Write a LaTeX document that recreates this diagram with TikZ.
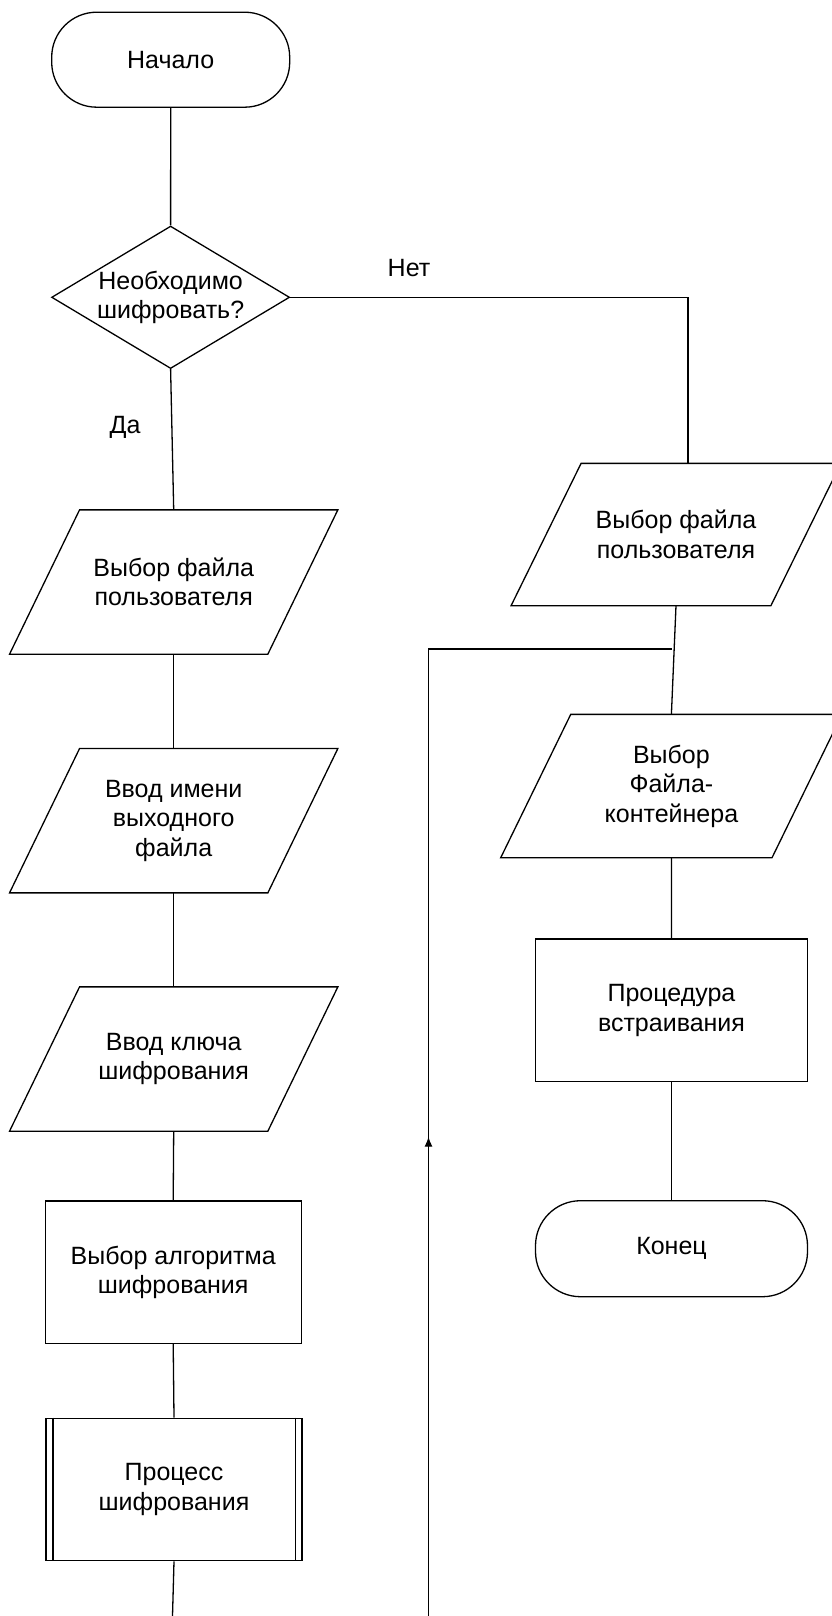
\documentclass[tikz,border=0pt]{standalone}
\usepackage{fontspec}
\setmainfont{Liberation Sans}
\usetikzlibrary{shapes.geometric,arrows.meta,decorations.markings}

\begin{document}
\begin{tikzpicture}[x=1pt, y=-1pt, line width=1.3pt,
    font=\fontsize{25}{29.5}\selectfont,
    term/.style={draw, rectangle, rounded corners=45pt, minimum width=238, minimum height=95},
    cond/.style={draw, diamond, aspect=1.67, inner sep=0pt, minimum width=238, minimum height=142.5, align=center},
    io/.style={rectangle, inner sep=0pt, minimum width=257, minimum height=143, align=center,
        append after command={\pgfextra{\draw ([xshift=35]\tikzlastnode.north west)
            -- ([xshift=35]\tikzlastnode.north east) -- ([xshift=-35]\tikzlastnode.south east)
            -- ([xshift=-35]\tikzlastnode.south west) -- cycle;}}},
    proc/.style={draw, rectangle, minimum width=256, minimum height=142.5, align=center}]
        \useasboundingbox (0,0) rectangle (831,1616);

        % levá větev
        \node[term] (start) at (170.7,59.7) {Начало};
        \node[cond] (dec) at (170.6,297.3) {Необходимо\\шифровать?};
        \node[io] (in1) at (173.7,582) {Выбор файла\\пользователя};
        \node[io] (in2) at (173.7,820.7) {Ввод имени\\выходного\\файла};
        \node[io] (in3) at (173.7,1059) {Ввод ключа\\шифрования};
        \node[proc] (algo) at (173.2,1272.2) {Выбор алгоритма\\шифрования};
        \node[proc] (enc) at (174,1489.5) {Процесс\\шифрования};
        \draw ([xshift=7.5]enc.north west) -- ([xshift=7.5]enc.south west)
            ([xshift=-7.5]enc.north east) -- ([xshift=-7.5]enc.south east);

        % pravá větev
        \node[io, minimum width=258.5, minimum height=141] (out1) at (676,534.5) {Выбор файла\\пользователя};
        \node[io, minimum width=270, minimum height=142] (out2) at (671.4,786) {Выбор\\Файла-\\контейнера};
        \node[proc, minimum width=272] (embed) at (671.5,1010.3) {Процедура\\встраивания};
        \node[term, minimum width=272, minimum height=96] (stop) at (671.5,1248.7) {Конец};

        \node (no) at (409,268) {Нет};
        \node (yes) at (125,427) {Да};

        % spoje
        \draw (start.south) -- (dec.north);
        \draw (dec.south) -- (in1.north);
        \draw (dec.east) -| ([xshift=12]out1.north);
        \draw (in1.south) -- (in2.north);
        \draw (in2.south) -- (in3.north);
        \draw (in3.south) -- (algo.north);
        \draw (algo.south) -- (enc.north);
        \coordinate (bottom) at (172.5,1616);
        \draw (enc.south) -- (bottom);

        \draw (out1.south) -- (out2.north);
        \draw (out2.south) -- (embed.north);
        \draw (embed.south) -- (stop.north);

        \coordinate (loopin) at (428.5,1616);
        \coordinate (loopout) at (672,649);
        \draw[postaction={decorate}, decoration={markings,
            mark=at position 0.396 with {\arrow{Latex[length=10pt,width=8pt]}}}]
            (loopin) |- (loopout);
    \end{tikzpicture}
\end{document}
